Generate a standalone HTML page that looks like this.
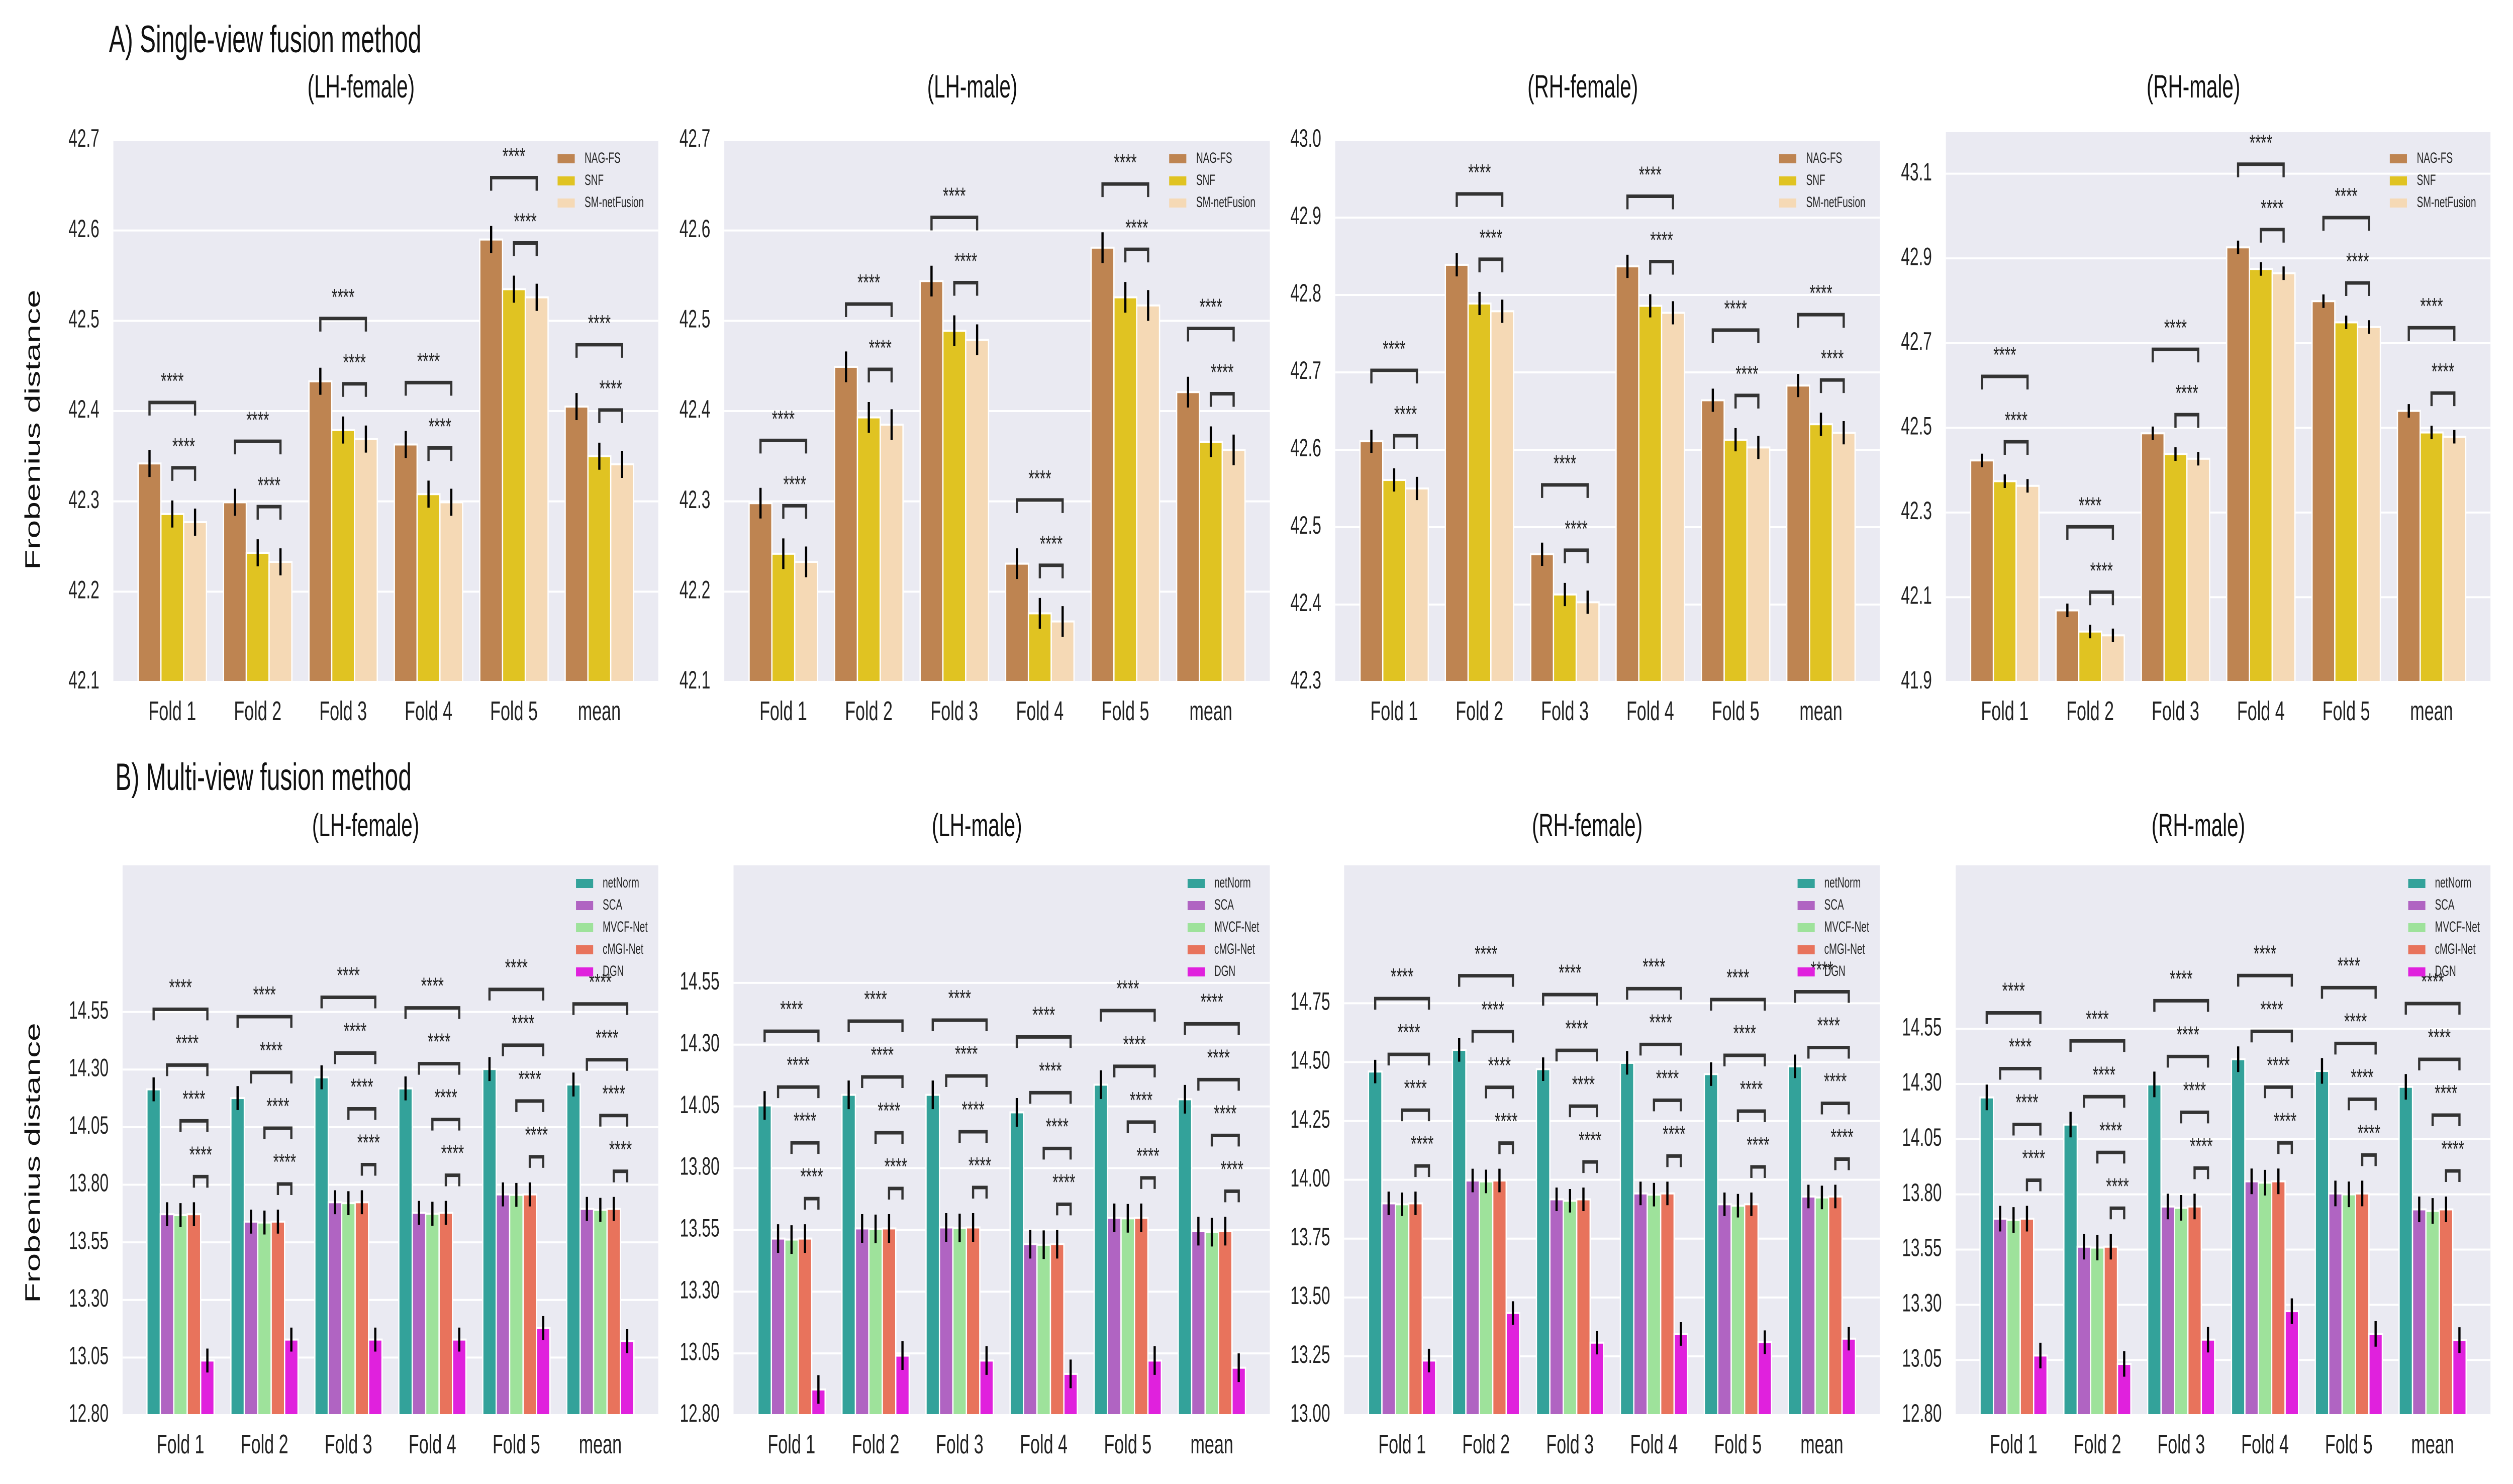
<!DOCTYPE html>
<html><head><meta charset="utf-8">
<style>
html,body{margin:0;padding:0;background:#fff;overflow:hidden;width:100%;height:100%;}
svg{display:block;font-family:"Liberation Sans",sans-serif;width:100vw;height:100vh;}
</style></head>
<body>
<svg id="fig" viewBox="0 0 7914 2953" preserveAspectRatio="none" xmlns="http://www.w3.org/2000/svg">
<rect x="0" y="0" width="7914" height="2953" fill="#ffffff"/>
<text x="343" y="104" font-size="76" fill="#111">A) Single-view fusion method</text>
<text x="363" y="1572" font-size="76" fill="#111">B) Multi-view fusion method</text>
<text x="0" y="0" font-size="66" fill="#111" text-anchor="middle" dominant-baseline="middle" transform="translate(108,855) rotate(-90)">Frobenius distance</text>
<text x="0" y="0" font-size="66" fill="#111" text-anchor="middle" dominant-baseline="middle" transform="translate(108,2314) rotate(-90)">Frobenius distance</text>
</svg>
<script>
const categories=["Fold 1","Fold 2","Fold 3","Fold 4","Fold 5","mean"];
const singleMethods=["NAG-FS","SNF","SM-netFusion"];
const multiMethods=["netNorm","SCA","MVCF-Net","cMGI-Net","DGN"];
const singleColors=["#be8451","#e0c322","#f5d9b5"];
const multiColors=["#33a29a","#b064c2","#9ee29b","#e8735c","#e021dd"];

const aLHF_nag=[42.342,42.299,42.433,42.363,42.590,42.405];
const aLHF_snf=[42.286,42.243,42.379,42.308,42.535,42.350];
const aLHF_sm =[42.277,42.233,42.369,42.299,42.526,42.341];
const aLHM_nag=[42.298,42.449,42.544,42.231,42.581,42.421];
const aLHM_snf=[42.242,42.393,42.489,42.176,42.526,42.366];
const aLHM_sm =[42.233,42.385,42.479,42.167,42.517,42.357];
const aRHF_nag=[42.611,42.839,42.465,42.837,42.664,42.683];
const aRHF_snf=[42.561,42.789,42.413,42.786,42.613,42.633];
const aRHF_sm =[42.550,42.779,42.403,42.777,42.603,42.622];
const aRHM_nag=[42.423,42.069,42.487,42.926,42.799,42.540];
const aRHM_snf=[42.374,42.019,42.438,42.875,42.749,42.489];
const aRHM_sm =[42.363,42.010,42.427,42.865,42.738,42.479];

const bLHF_netNorm=[14.214,14.176,14.266,14.218,14.302,14.235];
const bLHF_sca    =[13.672,13.640,13.724,13.678,13.758,13.695];
const bLHF_mvcf   =[13.668,13.636,13.720,13.674,13.756,13.691];
const bLHF_cmgi   =[13.672,13.640,13.724,13.678,13.758,13.695];
const bLHF_dgn    =[13.037,13.128,13.128,13.128,13.178,13.121];
const bLHM_netNorm=[14.054,14.097,14.097,14.026,14.138,14.079];
const bLHM_sca    =[13.515,13.556,13.560,13.492,13.599,13.545];
const bLHM_mvcf   =[13.511,13.554,13.558,13.490,13.597,13.541];
const bLHM_cmgi   =[13.515,13.556,13.560,13.492,13.599,13.545];
const bLHM_dgn    =[12.904,13.041,13.021,12.967,13.021,12.992];
const bRHF_netNorm=[14.460,14.552,14.470,14.497,14.449,14.482];
const bRHF_sca    =[13.900,13.997,13.917,13.942,13.896,13.929];
const bRHF_mvcf   =[13.896,13.993,13.911,13.937,13.890,13.925];
const bRHF_cmgi   =[13.900,13.997,13.917,13.942,13.896,13.929];
const bRHF_dgn    =[13.232,13.434,13.308,13.345,13.310,13.325];
const bRHM_netNorm=[14.239,14.116,14.298,14.412,14.359,14.287];
const bRHM_sca    =[13.690,13.563,13.745,13.859,13.804,13.732];
const bRHM_mvcf   =[13.684,13.559,13.739,13.853,13.800,13.725];
const bRHM_cmgi   =[13.690,13.563,13.745,13.859,13.804,13.732];
const bRHM_dgn    =[13.070,13.032,13.142,13.271,13.168,13.140];

const ticksA1=["42.1","42.2","42.3","42.4","42.5","42.6","42.7"];
const ticksA2=["42.1","42.2","42.3","42.4","42.5","42.6","42.7"];
const ticksA3=["42.3","42.4","42.5","42.6","42.7","42.8","42.9","43.0"];
const ticksA4=["41.9","42.1","42.3","42.5","42.7","42.9","43.1"];
const ticksB1=["12.80","13.05","13.30","13.55","13.80","14.05","14.30","14.55"];
const ticksB2=["12.80","13.05","13.30","13.55","13.80","14.05","14.30","14.55"];
const ticksB3=["13.00","13.25","13.50","13.75","14.00","14.25","14.50","14.75"];
const ticksB4=["12.80","13.05","13.30","13.55","13.80","14.05","14.30","14.55"];

const errA=[0.015,0.017,0.015,0.016];
const errB=[0.052,0.058,0.05,0.058];

const svg=document.getElementById('fig');
const NS="http://www.w3.org/2000/svg";
function mk(tag,attrs,parent){const e=document.createElementNS(NS,tag);for(const k in attrs)e.setAttribute(k,attrs[k]);(parent||svg).appendChild(e);return e;}

const panels=[
 {id:"a-lh-female",title:"(LH-female)",x0:357,x1:2073,y0:279,y1:1357,ymin:42.1,ymax:42.7,ticks:ticksA1,series:[aLHF_nag,aLHF_snf,aLHF_sm],err:errA[0],kind:"single"},
 {id:"a-lh-male",title:"(LH-male)",x0:2281,x1:3999,y0:279,y1:1357,ymin:42.1,ymax:42.7,ticks:ticksA2,series:[aLHM_nag,aLHM_snf,aLHM_sm],err:errA[1],kind:"single"},
 {id:"a-rh-female",title:"(RH-female)",x0:4205,x1:5920,y0:279,y1:1357,ymin:42.3,ymax:43.0,ticks:ticksA3,series:[aRHF_nag,aRHF_snf,aRHF_sm],err:errA[2],kind:"single"},
 {id:"a-rh-male",title:"(RH-male)",x0:6128,x1:7843,y0:263,y1:1357,ymin:41.9,ymax:43.198,ticks:ticksA4,series:[aRHM_nag,aRHM_snf,aRHM_sm],err:errA[3],kind:"single"},
 {id:"b-lh-female",title:"(LH-female)",x0:386,x1:2073,y0:1722,y1:2816,ymin:12.8,ymax:15.186,ticks:ticksB1,series:[bLHF_netNorm,bLHF_sca,bLHF_mvcf,bLHF_cmgi,bLHF_dgn],err:errB[0],kind:"multi"},
 {id:"b-lh-male",title:"(LH-male)",x0:2310,x1:3999,y0:1722,y1:2816,ymin:12.8,ymax:15.026,ticks:ticksB2,series:[bLHM_netNorm,bLHM_sca,bLHM_mvcf,bLHM_cmgi,bLHM_dgn],err:errB[1],kind:"multi"},
 {id:"b-rh-female",title:"(RH-female)",x0:4233,x1:5920,y0:1722,y1:2816,ymin:13.0,ymax:15.336,ticks:ticksB3,series:[bRHF_netNorm,bRHF_sca,bRHF_mvcf,bRHF_cmgi,bRHF_dgn],err:errB[2],kind:"multi"},
 {id:"b-rh-male",title:"(RH-male)",x0:6159,x1:7843,y0:1722,y1:2816,ymin:12.8,ymax:15.29,ticks:ticksB4,series:[bRHM_netNorm,bRHM_sca,bRHM_mvcf,bRHM_cmgi,bRHM_dgn],err:errB[3],kind:"multi"}
];

panels.forEach(p=>{
  const g=mk('g',{});
  
  
  const single=p.kind==="single";
  const margin=0.69;
  const xs=c=>p.x0+(c+margin)/(categories.length-1+2*margin)*(p.x1-p.x0);
  const ys=v=>p.y1-(v-p.ymin)/(p.ymax-p.ymin)*(p.y1-p.y0);
  const bg=mk('rect',{x:p.x0,y:p.y0,width:p.x1-p.x0,height:p.y1-p.y0,fill:'#eaeaf2'},g);
  
  
  const tt=mk('text',{x:(p.x0+p.x1)/2-78,y:single?177:1647,'font-size':64,'text-anchor':'middle','dominant-baseline':'middle',fill:'#111'},g);
  tt.textContent=p.title;
  
  
  p.ticks.forEach(t=>{
    const v=parseFloat(t), y=ys(v);
    const gl=mk('line',{x1:p.x0,x2:p.x1,y1:y,y2:y,stroke:'#fff','stroke-width':4},g);
    
    
    const tl=mk('text',{x:p.x0-44,y:y,'font-size':50,'text-anchor':'end','dominant-baseline':'middle',fill:'#222'},g);
    tl.textContent=t;
    
    
  });
  const n=p.series.length, bw=0.8/n;
  const colors=single?singleColors:multiColors;
  const barX=(k,i)=>xs(i-0.4+(k+0.5)*bw);
  const errTopPx=[];
  p.series.forEach((arr,k)=>{
    errTopPx[k]=[];
    arr.forEach((v,i)=>{
      const xl=xs(i-0.4+k*bw), xr=xs(i-0.4+(k+1)*bw);
      const r=mk('rect',{x:xl,y:ys(v),width:xr-xl,height:p.y1-ys(v),fill:colors[k],stroke:'#fff','stroke-width':4},g);
      
      
    });
  });
  p.series.forEach((arr,k)=>{
    arr.forEach((v,i)=>{
      const cx=barX(k,i);
      const e=mk('line',{x1:cx,x2:cx,y1:ys(v-p.err),y2:ys(v+p.err),stroke:'#000','stroke-width':7},g);
      
      
      errTopPx[k][i]=ys(v+p.err);
    });
  });
  const pairs=single?[[1,2],[0,2]]:[[3,4],[2,4],[1,4],[0,4]];
  const gap=single?39:29, leg=single?26:22, textOff=single?39:40, annTop=single?65:60;
  categories.forEach((c,i)=>{
    const prevTops=[];
    pairs.forEach(pr=>{
      let level=Infinity;
      for(let k=pr[0];k<=pr[1];k++) level=Math.min(level,errTopPx[k][i]);
      prevTops.forEach(t=>level=Math.min(level,t));
      const legBottom=level-gap, top=legBottom-leg;
      const xa=barX(pr[0],i), xb=barX(pr[1],i);
      const br=mk('path',{d:`M${xa},${legBottom} L${xa},${top} L${xb},${top} L${xb},${legBottom}`,fill:'none',stroke:'#333','stroke-width':7},g);
      
      
      const st=mk('text',{x:(xa+xb)/2,y:top-textOff,'font-size':46,'text-anchor':'middle','dominant-baseline':'middle',fill:'#222'},g);
      st.textContent='****';
      
      
      prevTops.push(top-annTop);
    });
    const xl=mk('text',{x:xs(i),y:p.y1+62,'font-size':54,'text-anchor':'middle','dominant-baseline':'middle',fill:'#222'},g);
    xl.textContent=c;
    
    
  });
  const names=single?singleMethods:multiMethods;
  const lg=mk('g',{},g);
  
  
  const px=single?p.x1-317:p.x1-259, tx=single?p.x1-232:p.x1-175, ly0=p.y0+(single?(p.id==='a-rh-male'?53:37):36);
  names.forEach((nm,k)=>{
    const y=ly0+k*44;
    const sw=mk('rect',{x:px,y:y-9,width:54,height:18,fill:colors[k]},lg);
    
    
    const t=mk('text',{x:tx,y:y,'font-size':30,'dominant-baseline':'middle',fill:'#262626'},lg);
    t.textContent=nm;
    
    
  });
});
</script>
</body></html>
